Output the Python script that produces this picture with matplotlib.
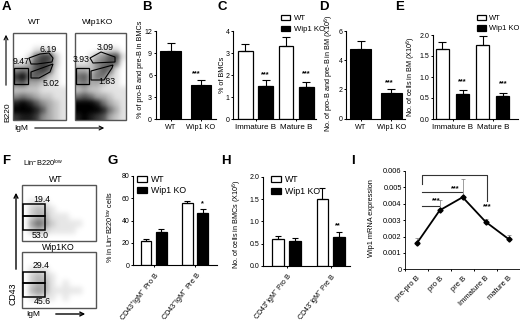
import numpy as np
import matplotlib
matplotlib.use('Agg')
import matplotlib.pyplot as plt
from matplotlib.patches import Polygon, Rectangle

plt.rcParams['font.family'] = ['Liberation Sans', 'DejaVu Sans']
plt.rcParams['mathtext.default'] = 'regular'
plt.rcParams['axes.linewidth'] = 0.8

W, H = 520, 323

# bar values (mean, top of error bar)
b_labels = ['WT', 'Wip1 KO']
b_vals = [9.33, 4.7]
b_tops = [10.3, 5.35]

c_labels = ['Immature B', 'Mature B']
c_wt = [3.1, 3.32]
c_wt_top = [3.41, 3.71]
c_ko = [1.52, 1.45]
c_ko_top = [1.77, 1.69]

d_labels = ['WT', 'Wip1 KO']
d_vals = [4.8, 1.78]
d_tops = [5.3, 2.05]

e_labels = ['Immature B', 'Mature B']
e_wt = [1.66, 1.77]
e_wt_top = [1.84, 1.98]
e_ko = [0.59, 0.55]
e_ko_top = [0.68, 0.62]

g_labels = ['CD43$^{+}$IgM$^{-}$ Pro B', 'CD43$^{-}$IgM$^{-}$ Pre B']
g_wt = [22, 56]
g_wt_top = [24, 57.3]
g_ko = [29.5, 47]
g_ko_top = [32.8, 50]

h_labels = ['CD43$^{+}$IgM$^{-}$ Pro B', 'CD43$^{-}$IgM$^{-}$ Pre B']
h_wt = [0.61, 1.5]
h_wt_top = [0.67, 1.74]
h_ko = [0.55, 0.66]
h_ko_top = [0.62, 0.77]

i_labels = ['pre-pro B', 'pro B', 'pre B', 'Immature B', 'mature B']
i_vals = [0.00158, 0.0036, 0.0044, 0.0029, 0.00185]
i_tops = [0.0019, 0.0042, 0.0055, 0.0031, 0.0021]

# flow plot densities, 0 = white, 9 = black
a_wt = [[0, 0, 0, 0, 0, 0, 0, 0],
        [0, 0, 0, 0, 0, 0, 0, 0],
        [0, 0, 0, 1, 1, 1, 0, 0],
        [0, 0, 1, 5, 7, 7, 2, 0],
        [1, 1, 3, 6, 7, 6, 2, 0],
        [4, 5, 4, 6, 7, 6, 1, 0],
        [7, 9, 5, 6, 5, 2, 1, 0],
        [5, 6, 3, 3, 2, 1, 1, 0],
        [2, 2, 2, 2, 1, 1, 1, 1],
        [4, 5, 4, 3, 2, 2, 1, 1],
        [8, 9, 8, 6, 4, 3, 2, 1],
        [9, 9, 9, 8, 6, 3, 2, 1],
        [7, 8, 8, 7, 4, 3, 2, 1]]
a_ko = [[0, 0, 0, 0, 0, 0, 0, 0],
        [0, 0, 0, 0, 0, 0, 0, 0],
        [0, 0, 0, 0, 1, 1, 1, 0],
        [0, 0, 1, 3, 4, 6, 7, 1],
        [1, 1, 2, 4, 5, 6, 5, 0],
        [3, 3, 2, 4, 6, 5, 1, 0],
        [5, 6, 3, 5, 5, 2, 1, 0],
        [4, 5, 3, 3, 2, 1, 1, 0],
        [2, 3, 2, 2, 1, 1, 1, 1],
        [5, 6, 5, 3, 3, 2, 1, 1],
        [9, 9, 9, 8, 5, 3, 2, 1],
        [9, 9, 9, 9, 8, 5, 3, 1],
        [8, 9, 8, 7, 6, 3, 2, 1]]
f_wt = [[0, 0, 0, 0, 0, 0, 0, 0, 0, 0, 0],
        [0, 0, 0, 0, 0, 0, 0, 0, 0, 0, 0],
        [0, 1, 1, 1, 0, 0, 0, 0, 0, 0, 0],
        [0, 2, 3, 2, 1, 0, 0, 0, 0, 0, 0],
        [0, 2, 3, 3, 1, 1, 1, 0, 0, 0, 0],
        [0, 4, 6, 4, 2, 1, 1, 1, 1, 0, 0],
        [0, 2, 3, 2, 1, 1, 1, 1, 0, 0, 0],
        [0, 0, 0, 0, 0, 0, 0, 0, 0, 0, 0]]
f_ko = [[0, 0, 0, 0, 0, 0, 0, 0, 0, 0, 0],
        [0, 0, 0, 0, 0, 0, 0, 0, 0, 0, 0],
        [0, 1, 1, 1, 0, 0, 0, 0, 0, 0, 0],
        [0, 2, 3, 2, 1, 0, 0, 0, 0, 0, 0],
        [0, 2, 3, 3, 1, 0, 1, 0, 0, 0, 0],
        [0, 3, 4, 3, 1, 1, 1, 1, 1, 0, 0],
        [0, 1, 2, 1, 1, 0, 1, 0, 0, 0, 0],
        [0, 0, 0, 0, 0, 0, 0, 0, 0, 0, 0]]

fig = plt.figure(figsize=(W / 100, H / 100), dpi=100)


def px_axes(x0, x1, ytop, ybot):
    return fig.add_axes([x0 / W, 1 - ybot / H, (x1 - x0) / W, (ybot - ytop) / H])


def style(ax, ylab, lab_at, ymax, ticks, ticklabs=None, fs=5, labfs=5.2):
    ax.set_ylim(0, ymax)
    ax.set_yticks(ticks)
    if ticklabs:
        ax.set_yticklabels(ticklabs)
    for s in ['top', 'right']:
        ax.spines[s].set_visible(False)
    ax.tick_params(length=1.6, width=0.7, pad=1, labelsize=fs)
    ax.set_ylabel(ylab, fontsize=labfs)
    # label anchor is its right edge, so move it half a text height
    ax.yaxis.set_label_coords((lab_at[0] + 3.5) / W, 1 - lab_at[1] / H, transform=fig.transFigure)
    ax.patch.set_alpha(0)


def simple_bars(box, first, unit, width, labels, vals, tops, ylab, lab_at, ymax, ticks):
    ax = px_axes(*box)
    x = np.arange(len(vals))
    ax.bar(x, vals, width, color='k', edgecolor='k', linewidth=0.8)
    ax.errorbar(x, vals, yerr=[np.zeros(len(vals)), np.array(tops) - vals], fmt='none',
                ecolor='k', elinewidth=0.8, capsize=3.2, capthick=0.8)
    ax.set_xlim((box[0] - first) / unit, (box[1] - first) / unit)
    ax.set_xticks(x)
    ax.set_xticklabels(labels)
    style(ax, ylab, lab_at, ymax, ticks)
    ax.tick_params(axis='x', labelsize=5.2, pad=2)
    return ax


def group_bars(box, first, unit, width, off, labels, wt, wt_top, ko, ko_top, ylab, lab_at, ymax, ticks,
               ticklabs=None, fs=5.8, rot=0, cap=3, lw=0.9):
    ax = px_axes(*box)
    x = np.arange(len(wt))
    b1 = ax.bar(x - off, wt, width, color='w', edgecolor='k', linewidth=lw, label='WT')
    b2 = ax.bar(x + off, ko, width, color='k', edgecolor='k', linewidth=lw, label='Wip1 KO')
    ax.errorbar(x - off, wt, yerr=[np.zeros(2), np.array(wt_top) - wt], fmt='none',
                ecolor='k', elinewidth=0.8, capsize=cap, capthick=0.8)
    ax.errorbar(x + off, ko, yerr=[np.zeros(2), np.array(ko_top) - ko], fmt='none',
                ecolor='k', elinewidth=0.8, capsize=cap, capthick=0.8)
    ax.set_xlim((box[0] - first) / unit, (box[1] - first) / unit)
    ax.set_xticks(x)
    if rot:
        ax.set_xticklabels(labels, rotation=rot, ha='right', rotation_mode='anchor')
    else:
        ax.set_xticklabels(labels)
    style(ax, ylab, lab_at, ymax, ticks, ticklabs)
    ax.tick_params(axis='x', labelsize=fs, pad=2)
    return ax, b1, b2


def legend(ax, b1, b2, x, y, fs=5.6, spacing=0.4):
    ax.legend([b1, b2], ['WT', 'Wip1 KO'], loc='upper left', bbox_to_anchor=(x / W, 1 - y / H),
              bbox_transform=fig.transFigure, frameon=False, fontsize=fs, handlelength=1.15,
              handleheight=0.7, handletextpad=0.5, labelspacing=spacing, borderpad=0, borderaxespad=0)


# B
simple_bars((155.7, 216, 31, 119), 170.5, 30.5, 0.68, b_labels, b_vals, b_tops,
            '% of pro-B and pre-B in BMCs', (141, 69), 12, [0, 3, 6, 9, 12])
# C
axc, b1, b2 = group_bars((233, 316, 31, 119.3), 255.5, 40.7, 0.36, 0.25, c_labels, c_wt, c_wt_top,
                         c_ko, c_ko_top, '% of BMCs', (223, 75), 4, [0, 1, 2, 3, 4])
legend(axc, b1, b2, 281, 15)
# D
simple_bars((346, 405, 31, 118.7), 360.5, 30.7, 0.68, d_labels, d_vals, d_tops,
            'No. of pro-B and pre-B in BM (X10$^{6}$)', (333, 73), 6, [0, 2, 4, 6])
# E
axe, b1, b2 = group_bars((432.7, 518, 35, 119), 452.5, 40.2, 0.33, 0.25, e_labels, e_wt, e_wt_top,
                         e_ko, e_ko_top, 'No. of cells in BM (X10$^{6}$)', (415, 77), 2.0,
                         [0, 0.5, 1.0, 1.5, 2.0], ['0.0', '0.5', '1.0', '1.5', '2.0'])
legend(axe, b1, b2, 477, 15, fs=5.4)
# G
axg, b1, b2 = group_bars((133, 216.7, 176, 265.3), 153.6, 41.5, 0.26, 0.185, g_labels, g_wt, g_wt_top,
                         g_ko, g_ko_top, '% in Lin$^{-}$B220$^{low}$ cells', (112, 227), 80,
                         [0, 20, 40, 60, 80], fs=5.2, rot=52, cap=2.5)
legend(axg, b1, b2, 137, 175, fs=6.3, spacing=0.25)
# H
axh, b1, b2 = group_bars((263, 350, 176.7, 266), 286.5, 44.3, 0.265, 0.19, h_labels, h_wt, h_wt_top,
                         h_ko, h_ko_top, 'No. of cells in BMCs (X10$^{6}$)', (240.7, 224), 2.0,
                         [0, 0.5, 1.0, 1.5, 2.0], ['0.0', '0.5', '1.0', '1.5', '2.0'],
                         fs=5.0, rot=52, cap=2.5)
legend(axh, b1, b2, 271, 175, fs=6.3, spacing=0.3)

# I
axi = px_axes(405.3, 520, 171, 269.3)
xi = np.arange(len(i_vals))
axi.errorbar(xi, i_vals, yerr=[np.zeros(5), np.array(i_tops) - i_vals], fmt='none',
             ecolor='#777777', elinewidth=0.5, capsize=1.5, capthick=0.5)
axi.plot(xi, i_vals, '-D', color='k', lw=1.3, ms=2.6)
axi.set_xlim(-0.5, 4.5)
axi.set_xticks(np.arange(-0.5, 5))
axi.set_xticklabels([])
axi.set_xticks(xi, minor=True)
axi.set_xticklabels(i_labels, minor=True, rotation=45, ha='right', rotation_mode='anchor')
style(axi, 'Wip1 mRNA expression', (371.7, 218), 0.006,
      [0, 0.001, 0.002, 0.003, 0.004, 0.005, 0.006],
      ['0', '0.001', '0.002', '0.003', '0.004', '0.005', '0.006'], fs=5.3, labfs=5.3)
axi.tick_params(axis='x', which='minor', length=0, labelsize=5.5, pad=4)
axi.spines['left'].set_linewidth(0.6)
axi.spines['bottom'].set_linewidth(0.6)

# overlay in pixel coordinates for flow plots, gates and notes
ov = fig.add_axes([0, 0, 1, 1], zorder=10)
ov.axis('off')
ov.patch.set_alpha(0)


def flow(dens, x0, x1, y0, y1, vmax=9):
    ov.imshow(np.array(dens, float), extent=(x0, x1, y1, y0), cmap='gray_r', vmin=0, vmax=vmax,
              interpolation='gaussian', aspect='auto', zorder=1)
    ov.add_patch(Rectangle((x0, y0), x1 - x0, y1 - y0, fill=False, ec='#555555', lw=1, zorder=3))


flow(a_wt, 13, 66, 33, 120)
flow(a_ko, 75, 126, 33, 120)
flow(f_wt, 22, 96, 185, 241, vmax=10)
flow(f_ko, 22, 96, 252, 308, vmax=10)
ov.set_xlim(0, W)
ov.set_ylim(H, 0)

gates = [
    [(29, 58), (40, 54), (49, 53), (53, 58), (52, 62), (37, 64), (31, 64)],
    [(31, 72), (53, 64), (50, 72), (39, 78), (31, 78)],
    [(90, 58), (101, 52), (115, 57), (115, 62), (93, 63)],
    [(91, 71), (113, 65), (112, 68), (104, 80), (91, 80)],
]
for g in gates:
    ov.add_patch(Polygon(g, closed=True, fill=False, ec='k', lw=0.8, zorder=4))
for r in [(13.5, 68, 14, 16), (75.5, 68, 13.5, 16)]:
    ov.add_patch(Rectangle(r[:2], r[2], r[3], fill=False, ec='k', lw=0.9, zorder=4))
for r in [(22.7, 204, 22.3, 12), (22.7, 216, 22.3, 14), (22.7, 272, 22.3, 11), (22.7, 283, 22.3, 14)]:
    ov.add_patch(Rectangle(r[:2], r[2], r[3], fill=False, ec='k', lw=1.1, zorder=4))


def t(x, y, s, fs=6.3, **kw):
    kw.setdefault('ha', 'center')
    kw.setdefault('va', 'center')
    ov.text(x, y, s, fontsize=fs, zorder=5, **kw)


for x, y, s in [(6, 6.5, 'A'), (147, 6.5, 'B'), (222, 6.5, 'C'), (324, 6.5, 'D'), (400, 6.5, 'E'),
                (6, 161, 'F'), (113, 161, 'G'), (226, 161, 'H'), (353, 161, 'I')]:
    t(x, y, s, fs=9.5, fontweight='bold')

t(34, 23, 'WT', fs=6)
t(98, 23, 'Wip1KO', fs=6)
t(48, 49, '6.19')
t(21, 61, '9.47')
t(51, 83, '5.02')
t(105, 47, '3.09')
t(81, 59, '3.93')
t(107, 81, '1.83')
t(8, 112, 'B220', fs=6, rotation=90)
t(21, 129, 'IgM', fs=6)
t(13, 294, 'CD43', fs=6.3, rotation=90)
t(33, 314, 'IgM', fs=6)
t(23, 163, 'Lin$^{-}$B220$^{low}$', fs=5.3, ha='left')
t(56, 180, 'WT', fs=6.3)
t(58, 248, 'Wip1KO', fs=6.3)
t(42, 200, '19.4')
t(40, 235, '53.0')
t(41, 266, '29.4')
t(42, 302, '45.6')

arrow = dict(arrowstyle='->', color='k', lw=0.8, mutation_scale=7)
ov.annotate('', xy=(6, 32), xytext=(6, 88), arrowprops=arrow)
ov.annotate('', xy=(107, 128), xytext=(32, 128), arrowprops=arrow)
ov.annotate('', xy=(16, 190), xytext=(16, 272), arrowprops=dict(arrow, lw=1))
ov.annotate('', xy=(88, 314), xytext=(53, 314), arrowprops=dict(arrow, lw=1))

for x, y, s in [(196, 74, '***'), (265, 75, '***'), (306, 74, '***'), (389, 83, '***'),
                (462, 82, '***'), (503, 84, '***'), (202, 204, '*'), (338, 226, '**'),
                (455, 189, '***'), (436, 201, '***'), (487, 207, '***')]:
    t(x, y, s, fs=5.2, fontweight='bold')

# brackets in panel I
ov.plot([421.7, 421.7, 487, 487], [184, 175, 175, 200.7], color='#333333', lw=0.8, zorder=4)
ov.plot([421.7, 461.7], [192.3, 192.3], color='#333333', lw=0.8, zorder=4)
ov.plot([421.7, 439], [205.7, 205.7], color='#333333', lw=0.8, zorder=4)

fig.savefig('out.png', dpi=100)
